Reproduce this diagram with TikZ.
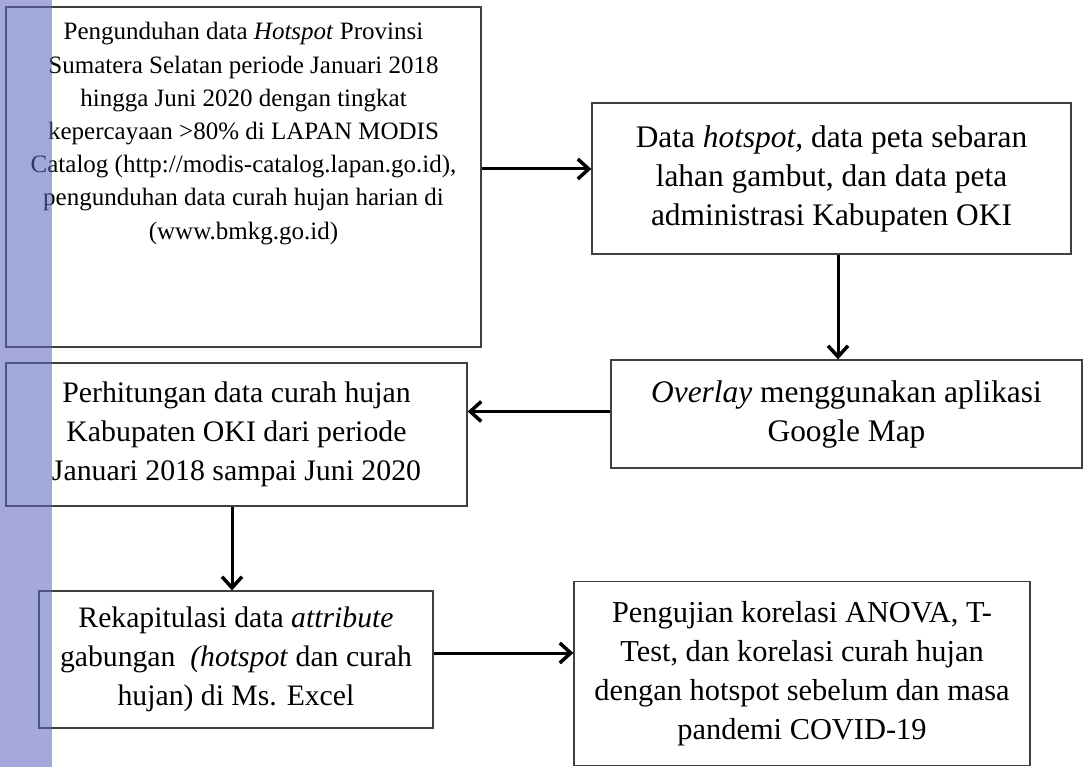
\documentclass[tikz,border=0pt]{standalone}
\usepackage{fontspec}
\setmainfont{Liberation Serif}
\usetikzlibrary{arrows.meta, positioning}

\definecolor{garis}{RGB}{64,64,64}
\definecolor{pitabiru}{RGB}{92,100,190}

\tikzset{
    kotak/.style = {draw=garis, line width=1.3pt, fill=white, align=center,
        font=\fontsize{31.4}{39}\selectfont, inner sep=0pt},
    kecil/.style = {font=\fontsize{#1}{39}\selectfont},
    panah/.style = {line width=3pt, -{Straight Barb[length=11pt, width=20pt, line width=3.5pt]}}
}

\begin{document}
\begin{tikzpicture}[x=1pt, y=-1pt]
    \useasboundingbox (0, 0) rectangle (1092, 767);

    \node [kotak, minimum width=475pt, minimum height=340pt] (unduh) at (243.5, 177) {};
    \node [below=16pt of unduh.north, align=center, inner sep=0pt,
        font=\fontsize{25}{33.2}\selectfont] (unduhteks) {%
        Pengunduhan data \textit{Hotspot} Provinsi\\
        Sumatera Selatan periode Januari 2018\\
        hingga Juni 2020 dengan tingkat\\
        kepercayaan >80\% di LAPAN MODIS\\
        Catalog (http://modis-catalog.lapan.go.id),\\
        pengunduhan data curah hujan harian di\\
        (www.bmkg.go.id)};

    \node [kotak, minimum width=479pt, minimum height=151pt] (data) at (831.5, 178.5)
        {Data \textit{hotspot,} data peta sebaran\\
        lahan gambut, dan data peta\\
        administrasi Kabupaten OKI};

    \node [kotak, minimum width=471pt, minimum height=108pt] (overlay) at (846.5, 414)
        {\textit{Overlay} menggunakan aplikasi\\
        Google Map};

    \node [kotak, kecil=29.8, minimum width=461pt, minimum height=143pt] (hitung) at (236.5, 434.5)
        {Perhitungan data curah hujan\\
        Kabupaten OKI dari periode\\
        Januari 2018 sampai Juni 2020};

    \node [kotak, kecil=29.7, minimum width=394pt, minimum height=137pt] (rekap) at (236, 659.5)
        {Rekapitulasi data \textit{attribute}\\
        gabungan\ \ \textit{(hotspot} dan curah\\
        hujan) di Ms. Excel};

    \node [kotak, kecil=30.4, minimum width=456pt, minimum height=184pt] (uji) at (802, 673.5)
        {Pengujian korelasi ANOVA, T-\\
        Test, dan korelasi curah hujan\\
        dengan hotspot sebelum dan masa\\
        pandemi COVID-19};

    \draw [panah] ([yshift=8pt]unduh.east) -- ([yshift=9.5pt]data.west);
    \draw [panah] ([xshift=6.5pt]data.south) -- ([xshift=-8.5pt]overlay.north);
    \draw [panah] ([yshift=2.5pt]overlay.west) -- ([yshift=23pt]hitung.east);
    \draw [panah] ([xshift=-4.5pt]hitung.south) -- ([xshift=-4pt]rekap.north);
    \draw [panah] ([yshift=6.5pt]rekap.east) -- ([yshift=20.5pt]uji.west);

    \fill [pitabiru, fill opacity=0.56] (0, 0) rectangle (52, 767);
\end{tikzpicture}
\end{document}
